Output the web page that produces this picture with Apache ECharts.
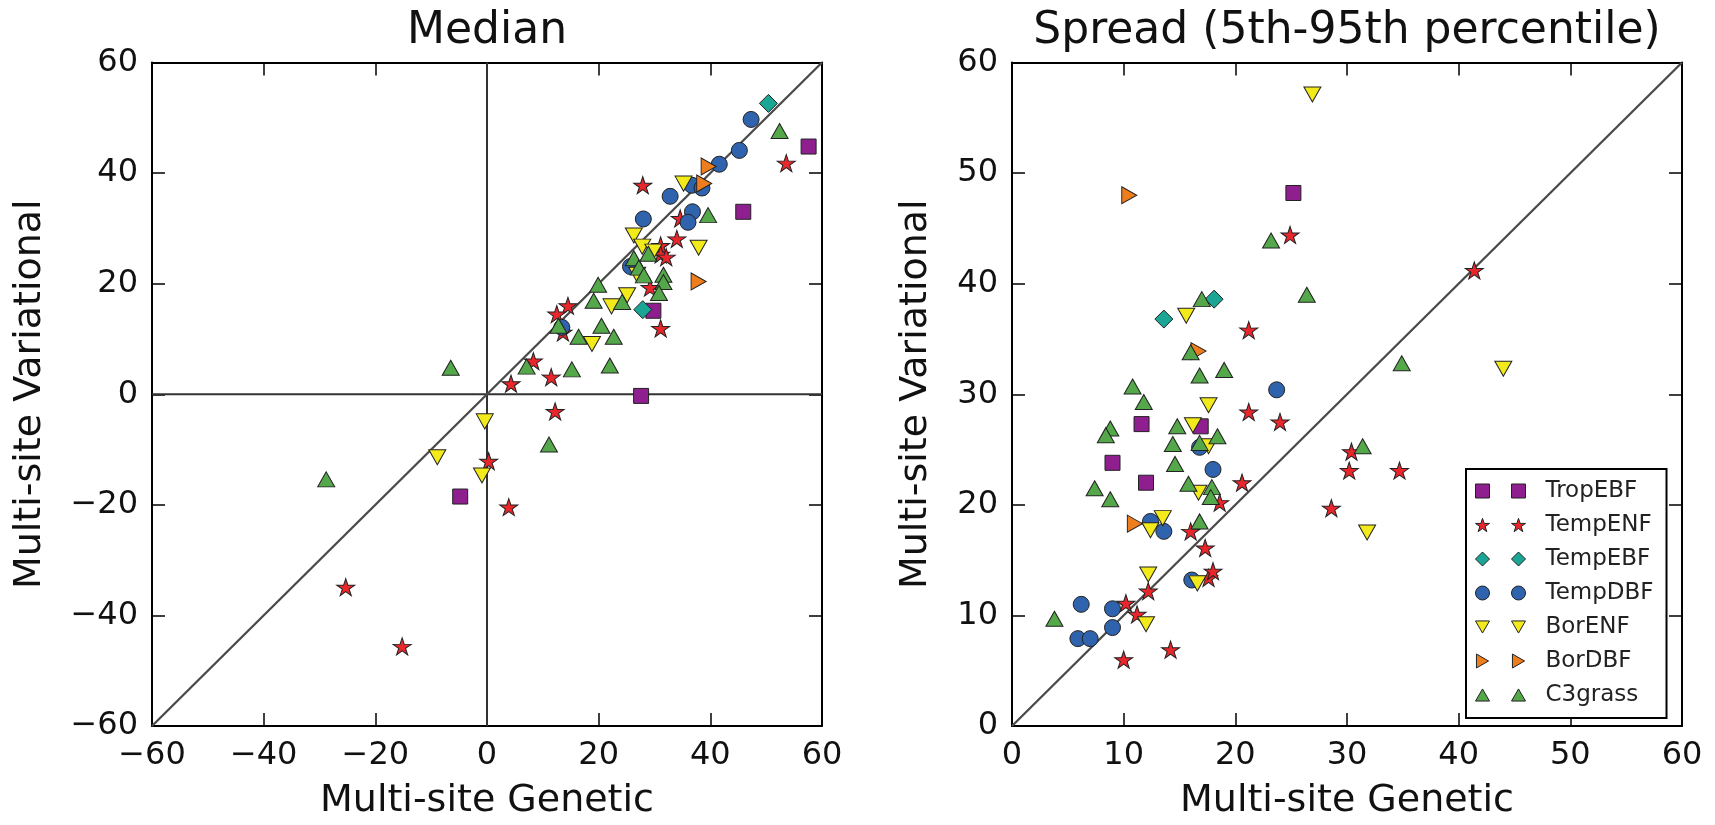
<!DOCTYPE html>
<html>
<head>
<meta charset="utf-8">
<script src="https://cdn.jsdelivr.net/npm/echarts@6/dist/echarts.min.js"></script>
<style>
  html, body { margin: 0; padding: 0; background: #fff; }
  #chart { width: 1715px; height: 825px; }
</style>
</head>
<body>
<div id="chart"></div>
<script>
// ---------- data ----------
const categories = ['TropEBF', 'TempENF', 'TempEBF', 'TempDBF', 'BorENF', 'BorDBF', 'C3grass'];

const median_TropEBF = [[57.6,44.8],[45.9,33.0],[29.8,15.1],[27.6,-0.3],[-4.8,-18.5]];
const median_TempENF = [[53.6,41.8],[27.9,37.8],[34.6,31.8],[34.0,28.1],[31.1,26.9],[31.1,25.3],[32.1,24.8],[29.2,19.3],[31.1,11.9],[14.5,16.0],[12.5,14.5],[13.6,11.2],[11.5,3.1],[8.3,6.0],[4.3,1.9],[12.2,-3.1],[0.3,-12.1],[3.9,-20.4],[-25.3,-34.9],[-15.2,-45.6]];
const median_TempEBF = [[50.4,52.6],[27.9,15.3]];
const median_TempDBF = [[47.3,49.7],[45.2,44.1],[41.6,41.6],[36.7,37.8],[38.5,37.3],[32.8,35.8],[28.0,31.7],[36.8,33.0],[36.0,31.1],[25.7,23.1],[13.4,12.1]];
const median_BorENF = [[35.2,38.1],[26.3,28.7],[37.9,26.5],[27.8,26.7],[29.8,25.8],[26.9,21.6],[25.1,17.9],[22.3,15.9],[18.8,9.1],[-0.4,-4.9],[-8.9,-11.4],[-0.9,-14.7]];
const median_BorDBF = [[39.7,41.2],[38.9,38.1],[37.9,20.4]];
const median_C3grass = [[52.4,47.6],[39.6,32.4],[28.9,25.4],[26.3,24.6],[27.2,22.9],[28.1,21.5],[31.6,21.6],[31.6,20.3],[30.8,18.3],[19.9,19.8],[19.1,16.9],[24.2,16.7],[12.8,12.4],[16.4,10.4],[20.5,12.4],[22.7,10.4],[22.0,5.2],[15.2,4.5],[7.1,5.0],[-6.5,4.8],[11.1,-9.1],[-28.8,-15.4]];

const spread_TropEBF = [[25.2,48.2],[11.6,27.3],[16.9,27.1],[9.0,23.8],[12.0,22.0]];
const spread_TempENF = [[24.9,44.4],[41.4,41.2],[21.2,35.8],[21.2,28.4],[24.0,27.5],[18.6,20.2],[20.6,22.0],[30.4,24.8],[30.2,23.1],[34.7,23.1],[28.6,19.7],[16.0,17.6],[17.3,16.1],[12.2,12.2],[17.6,13.4],[18.0,14.0],[10.2,11.1],[11.2,10.1],[14.2,6.9],[10.0,6.0]];
const spread_TempEBF = [[13.6,36.8],[18.1,38.6]];
const spread_TempDBF = [[23.7,30.4],[16.8,25.2],[18.0,23.2],[12.4,18.5],[13.6,17.6],[16.1,13.2],[6.2,11.0],[9.0,10.6],[9.0,8.9],[5.9,7.9],[7.0,7.9]];
const spread_BorENF = [[26.9,57.1],[15.6,37.1],[17.6,29.0],[16.2,27.2],[17.6,25.3],[16.7,21.1],[31.8,17.5],[44.0,32.3],[13.5,18.8],[12.4,17.7],[12.2,13.7],[16.6,12.9],[12.0,9.2]];
const spread_BorDBF = [[10.5,48.0],[16.7,33.9],[11.0,18.3]];
const spread_C3grass = [[23.2,43.9],[26.4,39.0],[17.0,38.6],[16.0,33.8],[16.8,31.7],[19.0,32.2],[34.9,32.8],[10.8,30.7],[11.8,29.3],[14.8,27.1],[8.8,26.9],[8.4,26.3],[18.4,26.2],[14.4,25.5],[16.8,25.6],[14.6,23.7],[7.4,21.5],[8.8,20.5],[15.8,21.9],[17.9,21.6],[17.8,20.7],[16.8,18.5],[31.4,25.3],[3.8,9.7]];

// reference lines
const medianDiagonal = [[-60,-60],[60,60]];
const medianZeroV = [[0,-60],[0,60]];
const medianZeroH = [[-60,0],[60,0]];
const spreadDiagonal = [[0,0],[60,60]];

const titles = ['Median', 'Spread (5th-95th percentile)'];
const xLabel = 'Multi-site Genetic';
const yLabel = 'Multi-site Variational';

const medianData = [median_TropEBF, median_TempENF, median_TempEBF, median_TempDBF, median_BorENF, median_BorDBF, median_C3grass];
const spreadData = [spread_TropEBF, spread_TempENF, spread_TempEBF, spread_TempDBF, spread_BorENF, spread_BorDBF, spread_C3grass];

// ---------- styles ----------
const FONT = "'DejaVu Sans', sans-serif";
const colors = ['#8f1f8f', '#e8262b', '#1aa595', '#2f63ad', '#f2ea1a', '#ee7d1d', '#55a84a'];
const symbols = [
  'rect',
  'path://M0,-1L0.224,-0.308L0.951,-0.309L0.362,0.118L0.588,0.809L0,0.381L-0.588,0.809L-0.362,0.118L-0.951,-0.309L-0.224,-0.308Z',
  'diamond',
  'circle',
  'path://M0,0L2,0L1,1.732Z',
  'path://M0,0L1.732,1L0,2Z',
  'path://M1,0L2,1.732L0,1.732Z'
];
const sizes = [[15,15],[18,17],[18,18],[16,16],[17,15],[15,17],[17,15]];

const minus = v => String(v).replace('-', '\u2212');

function axisCommon(min, max, interval, gridIndex, position, showLabel) {
  return {
    type: 'value', gridIndex, position, min, max, interval,
    axisLine: { show: true, onZero: false, lineStyle: { color: '#000', width: 2 } },
    axisTick: { show: true, inside: true, length: 13, lineStyle: { color: '#000', width: 1.5 } },
    splitLine: { show: false },
    axisLabel: { show: showLabel, margin: 14, fontSize: 32, color: '#111', fontFamily: FONT, formatter: minus }
  };
}

const titleStyle = { fontSize: 44, color: '#111', fontFamily: FONT };
const nameStyle = { fontSize: 38, color: '#111', fontFamily: FONT };

const xAxes = [
  Object.assign(axisCommon(-60, 60, 20, 0, 'bottom', true), { name: xLabel, nameLocation: 'middle', nameGap: 56, nameTextStyle: nameStyle }),
  Object.assign(axisCommon(-60, 60, 20, 0, 'top', false), { name: titles[0], nameLocation: 'middle', nameGap: 9, nameTextStyle: titleStyle }),
  Object.assign(axisCommon(0, 60, 10, 1, 'bottom', true), { name: xLabel, nameLocation: 'middle', nameGap: 56, nameTextStyle: nameStyle }),
  Object.assign(axisCommon(0, 60, 10, 1, 'top', false), { name: titles[1], nameLocation: 'middle', nameGap: 9, nameTextStyle: titleStyle })
];
const yAxes = [
  Object.assign(axisCommon(-60, 60, 20, 0, 'left', true), { name: yLabel, nameLocation: 'middle', nameGap: 103, nameRotate: 90, nameTextStyle: nameStyle }),
  axisCommon(-60, 60, 20, 0, 'right', false),
  Object.assign(axisCommon(0, 60, 10, 1, 'left', true), { name: yLabel, nameLocation: 'middle', nameGap: 77, nameRotate: 90, nameTextStyle: nameStyle }),
  axisCommon(0, 60, 10, 1, 'right', false)
];

function refLine(data, xi, yi, color, width) {
  return {
    type: 'line', xAxisIndex: xi, yAxisIndex: yi, data, showSymbol: false, symbol: 'none',
    lineStyle: { color, width }, z: 1, silent: true, animation: false
  };
}

const series = [
  refLine(medianZeroV, 0, 0, '#333', 2),
  refLine(medianZeroH, 0, 0, '#333', 2),
  refLine(medianDiagonal, 0, 0, '#4a4a4a', 2.3),
  refLine(spreadDiagonal, 2, 2, '#4a4a4a', 2.3)
];
categories.forEach((name, i) => {
  [[medianData, 0], [spreadData, 2]].forEach(([set, ai]) => {
    series.push({
      type: 'scatter', name, xAxisIndex: ai, yAxisIndex: ai, data: set[i],
      symbol: symbols[i], symbolSize: sizes[i],
      itemStyle: { color: colors[i], borderColor: '#222', borderWidth: 1, opacity: 1 },
      z: 2, animation: false
    });
  });
});

const legendText = { fontSize: 23, lineHeight: 24, color: '#222', fontFamily: FONT };
const option = {
  backgroundColor: '#fff',
  animation: false,
  grid: [
    { left: 152, top: 62.5, width: 670, height: 669 },
    { left: 1012, top: 62.5, width: 670, height: 669 }
  ],
  xAxis: xAxes,
  yAxis: yAxes,
  legend: [
    {
      orient: 'vertical', left: 1466, top: 469,
      padding: [10, 13, 11, 45],
      borderColor: '#000', borderWidth: 2, backgroundColor: '#fff',
      itemWidth: 14, itemHeight: 14, itemGap: 10,
      itemStyle: { borderColor: '#222', borderWidth: 1 },
      textStyle: Object.assign({ padding: [0, 0, 0, 15] }, legendText),
      data: categories
    },
    {
      orient: 'vertical', left: 1475, top: 479, padding: 0,
      itemWidth: 14, itemHeight: 14, itemGap: 10,
      itemStyle: { borderColor: '#222', borderWidth: 1 },
      textStyle: legendText,
      formatter: ' ', selectedMode: false,
      data: categories
    }
  ],
  series
};

const chart = echarts.init(document.getElementById('chart'), null, { renderer: 'canvas' });
chart.setOption(option);
</script>
</body>
</html>
